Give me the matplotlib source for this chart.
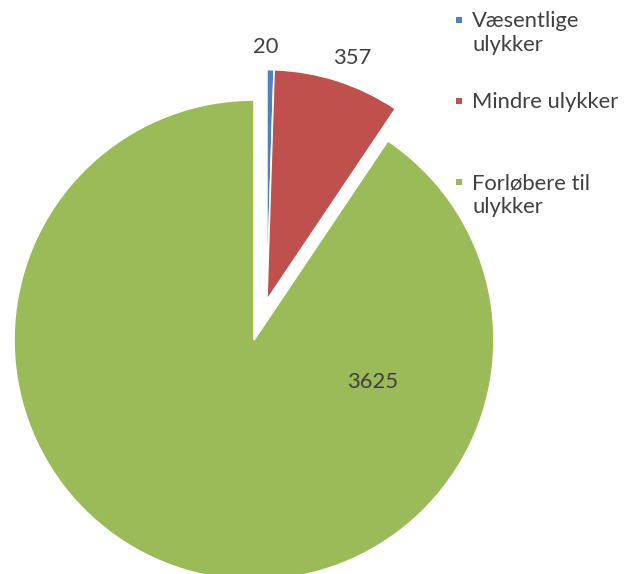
import matplotlib
matplotlib.use("Agg")
import matplotlib.pyplot as plt
import numpy as np
from matplotlib.patches import Rectangle

categories = ["Væsentlige ulykker", "Mindre ulykker", "Forløbere til ulykker"]
legend_labels = ["Væsentlige\nulykker", "Mindre ulykker", "Forløbere til\nulykker"]
values = [20, 357, 3625]
colors = ["#4F81BD", "#C0504D", "#9BBB59"]
explode_frac = [0.175, 0.175, 0.0]

W, H = 635, 574
fig = plt.figure(figsize=(W / 100, H / 100), dpi=100)
ax = fig.add_axes([0, 0, 1, 1])

cx, cy, R = 254, H - 340, 240
wedges, _ = ax.pie(values, colors=colors, startangle=90, counterclock=False,
                   explode=[e * R for e in explode_frac], center=(cx, cy), radius=R,
                   wedgeprops=dict(linewidth=1.2, edgecolor="white"), frame=True)
ax.set_xlim(0, W)
ax.set_ylim(0, H)
ax.set_aspect("equal")
ax.axis("off")
# exploded slices look slightly smaller in the reference; the tiny slice
# sits against the red one
for w in wedges[:2]:
    w.set_radius(R * 0.96)
wedges[0].set_center(wedges[1].center)

font = "Lato"
txt_color = "#404040"
fs = 15.8

# data labels
label_pos = [(266, H - 47), (352, H - 58), (373, H - 382)]
for v, (x, y) in zip(values, label_pos):
    ax.text(x, y, str(v), ha="center", va="center", fontsize=fs,
            color=txt_color, family=font)

# legend
leg_y = [20, 101, 182]
for lab, c, y in zip(legend_labels, colors, leg_y):
    ax.add_patch(Rectangle((456, H - y - 3), 6, 6, color=c, linewidth=0))
    ax.text(472, H - y + 9, lab, ha="left", va="top", fontsize=fs,
            color=txt_color, family=font, linespacing=1.27)

fig.savefig("out.png", dpi=100)
